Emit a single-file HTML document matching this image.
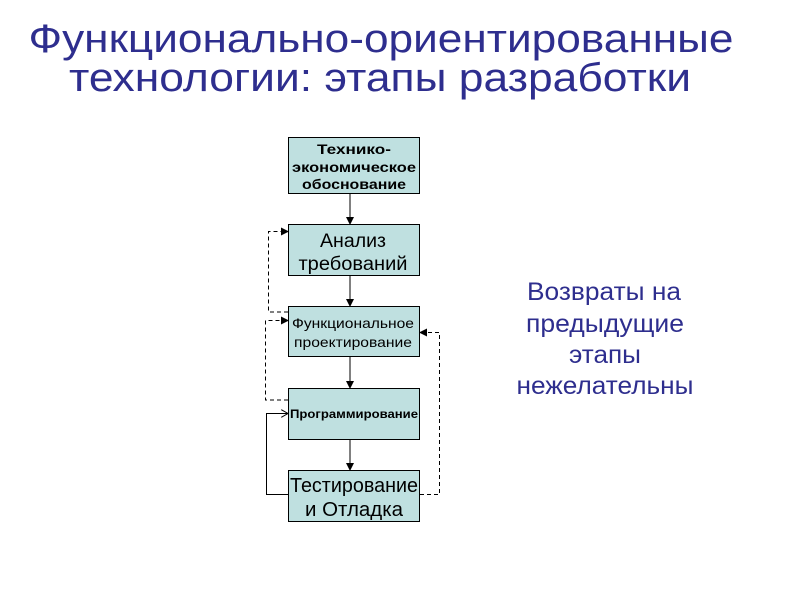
<!DOCTYPE html>
<html><head><meta charset="utf-8"><style>
html,body{margin:0;padding:0;background:#fff;}
svg{display:block}
text{font-family:"Liberation Sans",sans-serif;}
</style></head><body>
<svg width="800" height="600" viewBox="0 0 800 600" xmlns="http://www.w3.org/2000/svg">
<defs>
<marker id="a" markerWidth="8" markerHeight="8" refX="7" refY="4" orient="auto" markerUnits="userSpaceOnUse"><path d="M0,0 L8,4 L0,8 z" fill="#000"/></marker>
<marker id="o" markerWidth="8" markerHeight="8" refX="7" refY="4" orient="auto" markerUnits="userSpaceOnUse"><path d="M0,0 L7,4 L0,8" fill="none" stroke="#000" stroke-width="1"/></marker>
</defs>
<g fill="#2e2e8e" font-size="40" text-anchor="middle">
<text x="381" y="52" textLength="705" lengthAdjust="spacingAndGlyphs">Функционально-ориентированные</text>
<text x="380" y="91" textLength="622" lengthAdjust="spacingAndGlyphs">технологии: этапы разработки</text>
</g>
<g fill="#2e2e8e" font-size="25" text-anchor="middle">
<text x="604" y="300" textLength="154" lengthAdjust="spacingAndGlyphs">Возвраты на</text>
<text x="605" y="332" textLength="158" lengthAdjust="spacingAndGlyphs">предыдущие</text>
<text x="605" y="363" textLength="72" lengthAdjust="spacingAndGlyphs">этапы</text>
<text x="605" y="394" textLength="177" lengthAdjust="spacingAndGlyphs">нежелательны</text>
</g>
<g fill="#bfe0e0" stroke="#000" stroke-width="1">
<rect x="288.5" y="137.5" width="131" height="56"/>
<rect x="288.5" y="224.5" width="131" height="51"/>
<rect x="288.5" y="306.5" width="131" height="50"/>
<rect x="288.5" y="388.5" width="131" height="51"/>
<rect x="288.5" y="470.5" width="131" height="51"/>
</g>
<g fill="#000" text-anchor="middle">
<g font-size="14" font-weight="bold">
<text x="354" y="154" textLength="74" lengthAdjust="spacingAndGlyphs">Технико-</text>
<text x="354" y="172" textLength="124" lengthAdjust="spacingAndGlyphs">экономическое</text>
<text x="354" y="189" textLength="104" lengthAdjust="spacingAndGlyphs">обоснование</text>
</g>
<g font-size="19">
<text x="353" y="247" textLength="66" lengthAdjust="spacingAndGlyphs">Анализ</text>
<text x="353" y="270" textLength="109" lengthAdjust="spacingAndGlyphs">требований</text>
</g>
<g font-size="14">
<text x="353" y="328" textLength="122" lengthAdjust="spacingAndGlyphs">Функциональное</text>
<text x="353" y="347" textLength="118" lengthAdjust="spacingAndGlyphs">проектирование</text>
</g>
<text x="354" y="418" font-size="12" font-weight="bold" textLength="128" lengthAdjust="spacingAndGlyphs">Программирование</text>
<g font-size="20">
<text x="354" y="492" textLength="128" lengthAdjust="spacingAndGlyphs">Тестирование</text>
<text x="354" y="516" textLength="98" lengthAdjust="spacingAndGlyphs">и Отладка</text>
</g>
</g>
<g stroke="#000" stroke-width="1" fill="none">
<line x1="350" y1="194" x2="350" y2="224" marker-end="url(#a)"/>
<line x1="350" y1="276" x2="350" y2="306" marker-end="url(#a)"/>
<line x1="350" y1="357" x2="350" y2="388" marker-end="url(#a)"/>
<line x1="350" y1="440" x2="350" y2="470" marker-end="url(#a)"/>
<polyline points="288,312 268.5,312 268.5,231.5 288,231.5" stroke-dasharray="4,3" marker-end="url(#a)"/>
<polyline points="288,400 265.5,400 265.5,320.5 288,320.5" stroke-dasharray="4,3" marker-end="url(#a)"/>
<polyline points="288,494.5 266.5,494.5 266.5,413.5 288,413.5" marker-end="url(#o)"/>
<polyline points="420,494.5 439.5,494.5 439.5,332.5 420,332.5" stroke-dasharray="4,3" marker-end="url(#a)"/>
</g>
</svg>
</body></html>
